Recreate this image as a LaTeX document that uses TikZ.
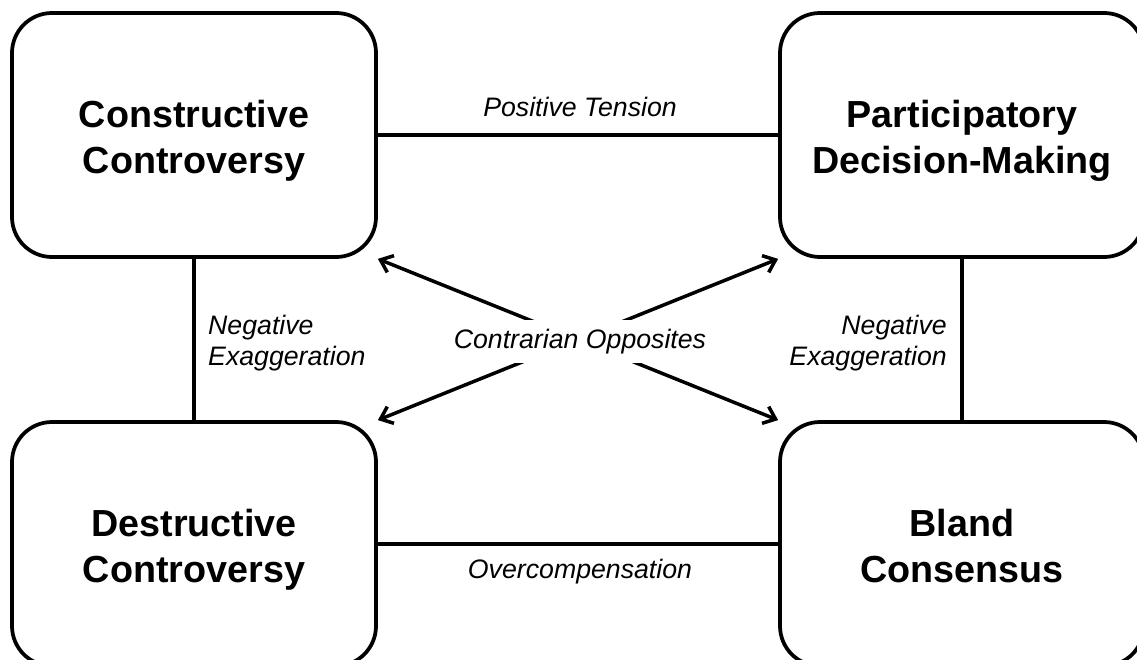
\documentclass[tikz,border=0pt]{standalone}
\usepackage{fontspec}
\setmainfont{Liberation Sans}
\usetikzlibrary{arrows.meta}
\newcommand{\boxlines}[2]{\rule{0pt}{39pt}#1\\#2\rule[-8pt]{0pt}{8pt}}
\begin{document}
\begin{tikzpicture}[x=1pt,y=-1pt,
  stage/.style={draw,line width=3.75pt,rounded corners=40pt,minimum width=364pt,minimum height=244pt,align=center,inner sep=0pt,font=\fontsize{37.7pt}{46pt}\selectfont\bfseries},
  conn/.style={line width=3.5pt},
  opp/.style={line width=3.5pt,{Straight Barb[length=11pt,width=18pt]}-{Straight Barb[length=11pt,width=18pt]}},
  lbl/.style={inner sep=0pt,font=\fontsize{26.7pt}{30.5pt}\selectfont\itshape}]
\useasboundingbox (0,0) rectangle (1137,660);
\node[stage] (cc)  at (194,135) {\boxlines{Constructive}{Controversy}};
\node[stage] (pdm) at (962,135) {\boxlines{Participatory}{Decision-Making}};
\node[stage] (dc)  at (194,544) {\boxlines{Destructive}{Controversy}};
\node[stage] (bc)  at (962,544) {\boxlines{Bland}{Consensus}};
\draw[conn] (cc) -- (pdm);
\draw[conn] (dc) -- (bc);
\draw[conn] (cc) -- (dc);
\draw[conn] (pdm) -- (bc);
\draw[opp] (cc.south east) -- (bc.north west);
\draw[opp] (pdm.south west) -- (dc.north east);
\node[lbl,anchor=base] (pt) at (580,117) {Positive Tension};
\node[lbl,anchor=base] (oc) at (580,578) {Overcompensation};
\node[lbl,anchor=west,align=left] (nel) at (208,343) {Negative\\Exaggeration};
\node[lbl,anchor=east,align=right] (ner) at (947,343) {Negative\\Exaggeration};
\node[lbl,anchor=base,fill=white,inner xsep=6pt,inner ysep=9pt] (co) at (580,348) {Contrarian Opposites};
\end{tikzpicture}
\end{document}
